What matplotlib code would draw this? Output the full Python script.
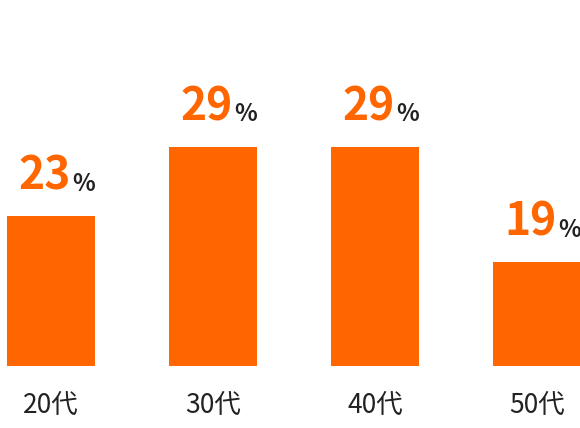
import matplotlib
matplotlib.use("Agg")
import matplotlib.pyplot as plt

categories = ["20代", "30代", "40代", "50代"]
values = [23, 29, 29, 19]
labels = ["23", "29", "29", "19"]

orange = "#ff6600"
plt.rcParams['font.family'] = ['Noto Sans CJK JP', 'DejaVu Sans']
fig = plt.figure(figsize=(5.8, 4.28), dpi=100)
ax = fig.add_axes([0, 62/428, 1, 366/428])
x = list(range(len(categories)))
ax.bar(x, values, width=0.54, color=orange, bottom=0)
ax.set_ylim(10, 41.8)
ax.set_xlim(-0.315, 3.265)
for xi, v, l in zip(x, values, labels):
    ax.annotate(l, (xi + 0.12, v), xytext=(0, 12), textcoords="offset points",
                ha="right", va="bottom", color=orange, fontsize=32, fontweight="bold")
    ax.annotate("%", (xi + 0.12, v), xytext=(1, 15), textcoords="offset points",
                ha="left", va="bottom", color="#222222", fontsize=17, fontweight="bold")
for xi, c in zip(x, categories):
    fig.text((xi + 0.315) / 3.58, 1 - 405/428, c, ha="center", va="center",
             fontsize=19, color="#222222")
ax.axis("off")
fig.savefig("out.png", dpi=100)
